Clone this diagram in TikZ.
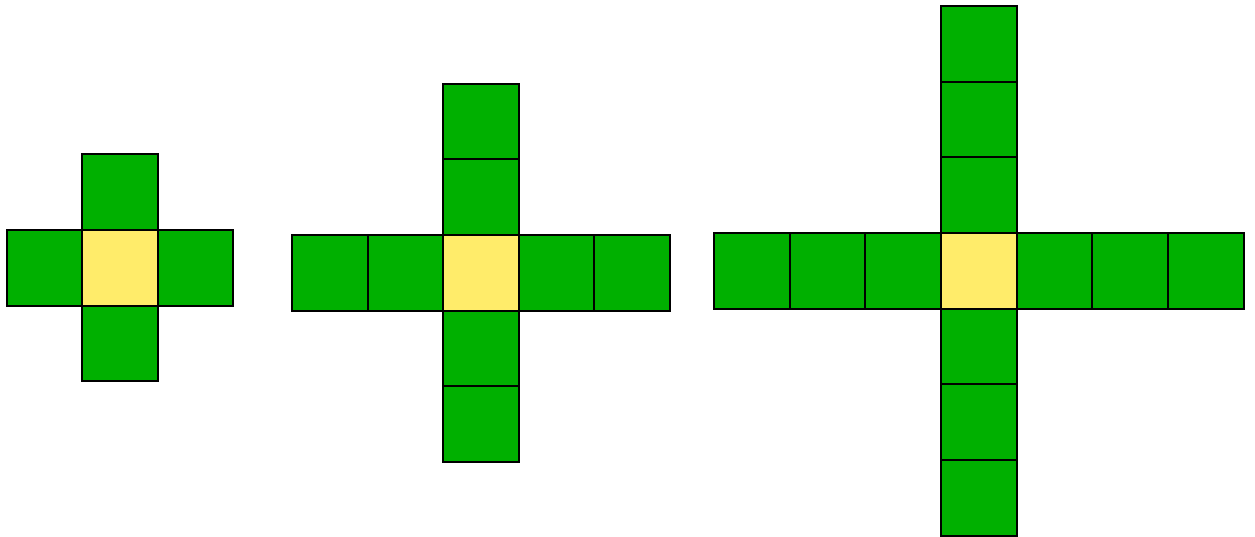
\documentclass[tikz,border=0pt]{standalone}
\definecolor{cgreen}{HTML}{00B000}
\definecolor{cyellow}{HTML}{FFEC6A}
\tikzset{
  arm/.style={fill=cgreen,draw=black,line width=2pt},
  hub/.style={fill=cyellow,draw=black,line width=2pt}
}
\newcommand{\crossfig}[4]{% x, y (top-left of hub), size, arm length
  \foreach \k in {1,...,#4}{
    \draw[arm] (#1+\k*#3,#2) rectangle ++(#3,#3);
    \draw[arm] (#1-\k*#3,#2) rectangle ++(#3,#3);
    \draw[arm] (#1,#2+\k*#3) rectangle ++(#3,#3);
    \draw[arm] (#1,#2-\k*#3) rectangle ++(#3,#3);
  }
  \draw[hub] (#1,#2) rectangle ++(#3,#3);
}
\begin{document}
\begin{tikzpicture}[x=1pt,y=-1pt]
\useasboundingbox (0,0) rectangle (1255,537);
\crossfig{82}{230}{75.5}{1}
\crossfig{443}{235}{75.5}{2}
\crossfig{941}{233}{75.7}{3}
\end{tikzpicture}
\end{document}
